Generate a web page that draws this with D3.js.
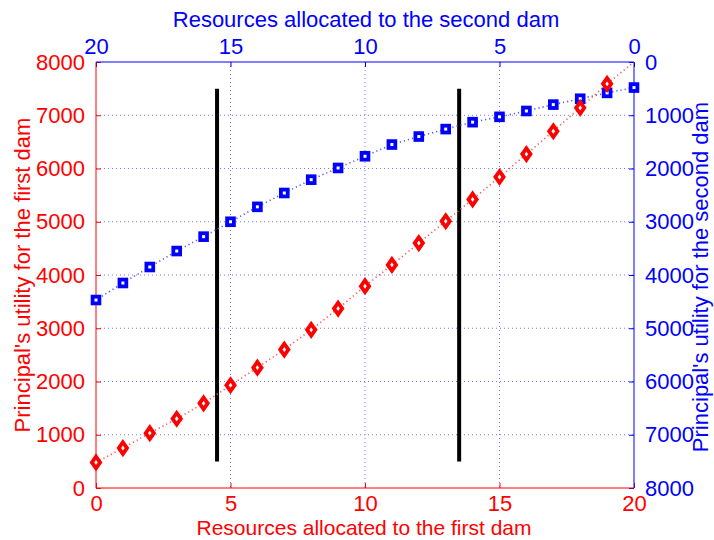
<!DOCTYPE html>
<html>
<head>
<meta charset="utf-8">
<script src="https://cdn.jsdelivr.net/npm/d3@7"></script>
<style>
  html, body { margin: 0; padding: 0; background: #fff; }
  svg text { font-family: "Liberation Sans", Arial, Helvetica, sans-serif; }
</style>
</head>
<body>
<svg id="chart" width="714" height="540"></svg>
<script>
// Resources given to the first dam (bottom axis) and to the second dam (top axis)
const resources = d3.range(0, 21);
// Principal's utility for the first dam, indexed by resources allocated to it
const utilityFirst = [480, 750, 1030, 1300, 1590, 1930, 2260, 2600, 2970, 3370,
                      3790, 4190, 4600, 5010, 5420, 5840, 6270, 6700, 7140, 7590, 8000];
// Principal's utility for the second dam, indexed by resources allocated to it
const utilitySecond = [480, 580, 690, 800, 920, 1030, 1130, 1260, 1400, 1550,
                       1770, 1990, 2210, 2460, 2720, 3000, 3280, 3550, 3850, 4150, 4470];
// Markers shown for the first dam (the last point only closes the line)
const firstMarkerCount = 20;
// Vertical reference lines: position on the first-dam axis and utility span
const refLines = [4.5, 13.5];
const refSpan = [500, 7500];

const xTicks = [0, 5, 10, 15, 20];
const yTicks = [0, 1000, 2000, 3000, 4000, 5000, 6000, 7000, 8000];

const RED = "#ff0000", BLUE = "#0000ff";
const svg = d3.select("#chart");
const W = 714, H = 540;
const m = { left: 96, right: 80, top: 62, bottom: 52 };
const x0 = m.left, x1 = W - m.right, y0 = m.top, y1 = H - m.bottom;

const xBottom = d3.scaleLinear().domain([0, 20]).range([x0, x1]);
const xTop = d3.scaleLinear().domain([20, 0]).range([x0, x1]);
const yLeft = d3.scaleLinear().domain([0, 8000]).range([y1, y0]);
const yRight = d3.scaleLinear().domain([0, 8000]).range([y0, y1]);

const FS = 22;
const fmt = d3.format("d");

// grid (dotted, light blue)
const grid = svg.append("g");
grid.selectAll("line.gx").data(xTicks.slice(1, -1)).join("line")
  .attr("x1", d => xBottom(d)).attr("x2", d => xBottom(d))
  .attr("y1", y0).attr("y2", y1)
  .attr("stroke", "#7777ff").attr("stroke-width", 1)
  .attr("stroke-dasharray", "1,3");
grid.selectAll("line.gy").data(yTicks.slice(1, -1)).join("line")
  .attr("x1", x0).attr("x2", x1)
  .attr("y1", d => yLeft(d)).attr("y2", d => yLeft(d))
  .attr("stroke", "#7777ff").attr("stroke-width", 1)
  .attr("stroke-dasharray", "1,3");

// axes
function styleAxis(g, color) {
  g.select(".domain").remove();
  g.selectAll(".tick line").attr("stroke", color);
  g.selectAll(".tick text").attr("fill", color).style("font-size", FS + "px");
}

const axB = svg.append("g").attr("transform", `translate(0,${y1})`)
  .call(d3.axisBottom(xBottom).tickValues(xTicks).tickFormat(fmt)
    .tickSizeInner(-5).tickSizeOuter(0).tickPadding(7));
styleAxis(axB, RED);

const axT = svg.append("g").attr("transform", `translate(0,${y0})`)
  .call(d3.axisTop(xTop).tickValues(xTicks).tickFormat(fmt)
    .tickSizeInner(-5).tickSizeOuter(0).tickPadding(8));
styleAxis(axT, BLUE);

const axL = svg.append("g").attr("transform", `translate(${x0},0)`)
  .call(d3.axisLeft(yLeft).tickValues(yTicks).tickFormat(fmt)
    .tickSizeInner(-5).tickSizeOuter(0).tickPadding(11));
styleAxis(axL, RED);

const axR = svg.append("g").attr("transform", `translate(${x1},0)`)
  .call(d3.axisRight(yRight).tickValues(yTicks).tickFormat(fmt)
    .tickSizeInner(-5).tickSizeOuter(0).tickPadding(11));
styleAxis(axR, BLUE);

// frame: first-dam sides red, second-dam sides blue
svg.append("line").attr("x1", x0).attr("x2", x1).attr("y1", y1).attr("y2", y1).attr("stroke", RED);
svg.append("line").attr("x1", x0).attr("x2", x0).attr("y1", y0).attr("y2", y1).attr("stroke", RED);
svg.append("line").attr("x1", x0).attr("x2", x1).attr("y1", y0).attr("y2", y0).attr("stroke", BLUE);
svg.append("line").attr("x1", x1).attr("x2", x1).attr("y1", y0).attr("y2", y1).attr("stroke", BLUE);

// reference lines
svg.selectAll("line.ref").data(refLines).join("line")
  .attr("x1", d => xBottom(d)).attr("x2", d => xBottom(d))
  .attr("y1", yLeft(refSpan[0])).attr("y2", yLeft(refSpan[1]))
  .attr("stroke", "#000").attr("stroke-width", 4);

// second dam series (top/right axes)
const secondPts = resources.map((r, i) => [xTop(r), yRight(utilitySecond[i])]);
svg.append("path").attr("d", d3.line()(secondPts))
  .attr("fill", "none").attr("stroke", "#5555ff").attr("stroke-width", 1.6)
  .attr("stroke-dasharray", "1.2,3");
svg.selectAll("rect.sq").data(secondPts).join("rect")
  .attr("x", d => d[0] - 3.4).attr("y", d => d[1] - 3.4)
  .attr("width", 6.8).attr("height", 6.8)
  .attr("fill", "#fff").attr("stroke", BLUE).attr("stroke-width", 3.8);

// first dam series (bottom/left axes)
const firstPts = resources.map((r, i) => [xBottom(r), yLeft(utilityFirst[i])]);
svg.append("path").attr("d", d3.line()(firstPts))
  .attr("fill", "none").attr("stroke", "#ff5555").attr("stroke-width", 1.6)
  .attr("stroke-dasharray", "1.2,3");
const diamond = "M0,-5.8L4.1,0L0,5.8L-4.1,0Z";
svg.selectAll("path.dm").data(firstPts.slice(0, firstMarkerCount)).join("path")
  .attr("d", diamond)
  .attr("transform", d => `translate(${d[0]},${d[1]})`)
  .attr("fill", "#fff").attr("stroke", RED).attr("stroke-width", 3.8)
  .attr("stroke-linejoin", "miter");

// axis titles
svg.append("text").attr("x", (x0 + x1) / 2 + 1).attr("y", 27)
  .attr("text-anchor", "middle").attr("fill", BLUE).style("font-size", FS + "px")
  .text("Resources allocated to the second dam");
svg.append("text").attr("x", (x0 + x1) / 2 - 1).attr("y", 535)
  .attr("text-anchor", "middle").attr("fill", RED).style("font-size", "21px")
  .text("Resources allocated to the first dam");
svg.append("text")
  .attr("transform", `translate(30,${(y0 + y1) / 2}) rotate(-90)`)
  .attr("text-anchor", "middle").attr("fill", RED).style("font-size", FS + "px")
  .text("Principal's utility for the first dam");
svg.append("text")
  .attr("transform", `translate(708,${(y0 + y1) / 2 + 2}) rotate(-90)`)
  .attr("text-anchor", "middle").attr("fill", BLUE).style("font-size", FS + "px")
  .text("Principal's utility for the second dam");
</script>
</body>
</html>
